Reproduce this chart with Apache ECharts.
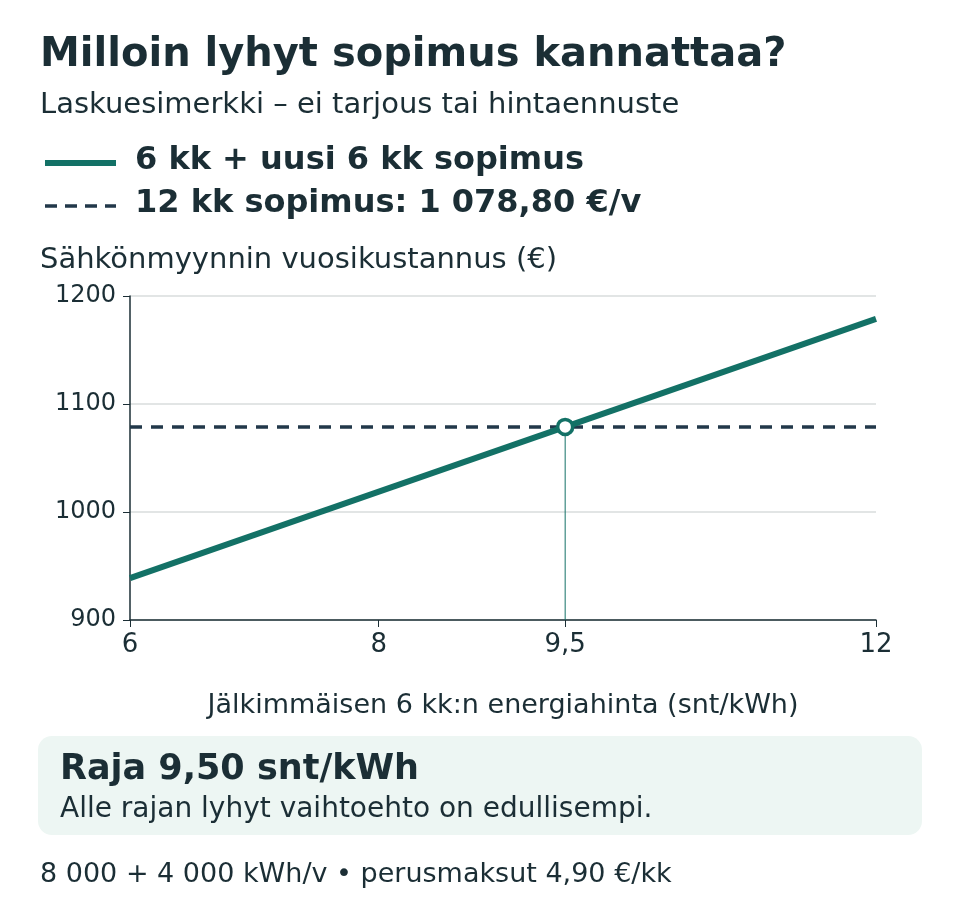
<!DOCTYPE html>
<html><head><meta charset="utf-8">
<script src="https://cdn.jsdelivr.net/npm/echarts@6/dist/echarts.min.js"></script>
<style>html,body{margin:0;padding:0;background:#fff}#c{width:960px;height:920px}</style>
</head><body><div id="c"></div>
<script>
const xValues = [6, 12];
const shortCost = [938.8, 1178.8];
const longCost = 1078.8;
const breakEven = [9.5, 1078.8];
const xTicks = [6, 8, 9.5, 12];
const yTicks = [900, 1000, 1100, 1200];

const dark = '#1b2e35', green = '#137166', navy = '#22384a';
const F = 'DejaVu Sans';
const chart = echarts.init(document.getElementById('c'));
chart.setOption({
  animation: false,
  textStyle: {fontFamily: F},
  grid: {left: 130, right: 84, top: 296, bottom: 300},
  xAxis: {
    type: 'value', min: 6, max: 12,
    axisLine: {lineStyle: {color: dark, width: 1.5}},
    axisTick: {show: true, customValues: xTicks, length: 7, lineStyle: {color: dark}},
    axisLabel: {customValues: xTicks, color: dark, fontSize: 26, fontFamily: F, margin: 12,
      formatter: v => String(v).replace('.', ',')},
    splitLine: {show: false},
    name: 'Jälkimmäisen 6 kk:n energiahinta (snt/kWh)', nameLocation: 'middle', nameGap: 72,
    nameTextStyle: {color: dark, fontSize: 27, fontFamily: F}
  },
  yAxis: {
    type: 'value', min: 900, max: 1200, interval: 100,
    axisLine: {show: true, lineStyle: {color: dark, width: 1.5}},
    axisTick: {show: true, length: 7, lineStyle: {color: dark}},
    axisLabel: {color: dark, fontSize: 24, fontFamily: F, margin: 14, formatter: v => String(v)},
    splitLine: {lineStyle: {color: '#d8dcdc', width: 1.5}}
  },
  series: [
    {type: 'line', data: xValues.map((x, i) => [x, shortCost[i]]), symbol: 'none',
     lineStyle: {color: green, width: 6}, z: 3},
    {type: 'line', data: xValues.map(x => [x, longCost]), symbol: 'none',
     lineStyle: {color: navy, width: 3.5, type: [12, 9]}, z: 2},
    {type: 'line', data: [[breakEven[0], 900], breakEven], symbol: 'none',
     lineStyle: {color: green, width: 1}, z: 1},
    {type: 'scatter', data: [breakEven], symbol: 'circle', symbolSize: 15,
     itemStyle: {color: '#ffffff', borderColor: green, borderWidth: 3.5, opacity: 1}, z: 5,
     emphasis: {disabled: true}}
  ],
  graphic: [
    {type: 'text', left: 40, top: 36, style: {text: 'Milloin lyhyt sopimus kannattaa?', font: 'bold 40px "DejaVu Sans"', fill: dark}},
    {type: 'text', left: 40, top: 91, style: {text: 'Laskuesimerkki – ei tarjous tai hintaennuste', font: '29px "DejaVu Sans"', fill: dark}},
    {type: 'line', shape: {x1: 45, y1: 163, x2: 116, y2: 163}, style: {stroke: green, lineWidth: 6}},
    {type: 'text', left: 135, top: 145, style: {text: '6 kk + uusi 6 kk sopimus', font: 'bold 32px "DejaVu Sans"', fill: dark}},
    {type: 'line', shape: {x1: 45, y1: 206, x2: 116, y2: 206}, style: {stroke: navy, lineWidth: 3.5, lineDash: [12, 8]}},
    {type: 'text', left: 135, top: 188, style: {text: '12 kk sopimus: 1 078,80 €/v', font: 'bold 32px "DejaVu Sans"', fill: dark}},
    {type: 'text', left: 40, top: 246, style: {text: 'Sähkönmyynnin vuosikustannus (€)', font: '29px "DejaVu Sans"', fill: dark}},
    {type: 'rect', shape: {x: 38, y: 736, width: 884, height: 99, r: 14}, style: {fill: '#edf6f3'}},
    {type: 'text', left: 60, top: 752, style: {text: 'Raja 9,50 snt/kWh', font: 'bold 35px "DejaVu Sans"', fill: dark}},
    {type: 'text', left: 60, top: 796, style: {text: 'Alle rajan lyhyt vaihtoehto on edullisempi.', font: '28px "DejaVu Sans"', fill: dark}},
    {type: 'text', left: 40, top: 861, style: {text: '8 000 + 4 000 kWh/v • perusmaksut 4,90 €/kk', font: '27px "DejaVu Sans"', fill: dark}}
  ]
});
</script></body></html>
